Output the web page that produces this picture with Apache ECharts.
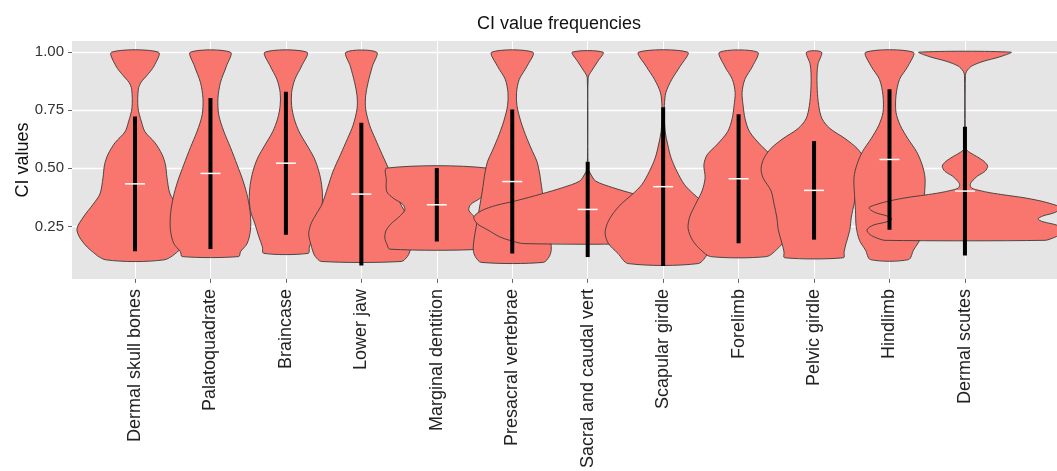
<!DOCTYPE html>
<html>
<head>
<meta charset="utf-8">
<script src="https://cdn.jsdelivr.net/npm/echarts@6/dist/echarts.min.js"></script>
<style>
    html, body { margin: 0; padding: 0; background: #fff; }
    #violinChart { width: 1057px; height: 471px; }
</style>
</head>
<body>
<div id="violinChart"></div>
<script>
    // skeletal regions along the x axis
    const categories = ['Dermal skull bones', 'Palatoquadrate', 'Braincase', 'Lower jaw', 'Marginal dentition',
        'Presacral vertebrae', 'Sacral and caudal vert', 'Scapular girdle', 'Forelimb', 'Pelvic girdle',
        'Hindlimb', 'Dermal scutes']
    const categoryTicks = [1, 2, 3, 4, 5, 6, 7, 8, 9, 10, 11, 12]
    const yTicks = [0.25, 0.5, 0.75, 1.0]

    // mean CI and standard deviation per region (white mark and black bar)
    const meanValues = [0.433, 0.478, 0.522, 0.389, 0.343, 0.443, 0.323, 0.421, 0.455, 0.405, 0.538, 0.402]
    const sdValues = [0.290, 0.325, 0.308, 0.307, 0.158, 0.310, 0.205, 0.342, 0.278, 0.212, 0.302, 0.277]

    // violin outlines: [CI value, half width in category units], from top to bottom
    const dermalSkull = [[1.0, 0.311], [0.94, 0.252], [0.90, 0.159], [0.87, 0.080], [0.84, 0.044], [0.76, 0.040],
        [0.70, 0.086], [0.657, 0.133], [0.61, 0.265], [0.56, 0.358], [0.515, 0.404], [0.46, 0.424], [0.39, 0.464],
        [0.346, 0.553], [0.29, 0.685], [0.24, 0.769], [0.20, 0.729], [0.15, 0.597], [0.106, 0.384]]
    const palatoquadrate = [[1.0, 0.265], [0.94, 0.212], [0.87, 0.133], [0.80, 0.099], [0.73, 0.110], [0.66, 0.176],
        [0.59, 0.265], [0.515, 0.354], [0.445, 0.433], [0.374, 0.494], [0.30, 0.530], [0.233, 0.530],
        [0.176, 0.486], [0.141, 0.398], [0.12, 0.375]]
    const braincase = [[1.0, 0.278], [0.94, 0.208], [0.883, 0.119], [0.826, 0.076], [0.77, 0.076], [0.713, 0.110],
        [0.657, 0.176], [0.60, 0.278], [0.544, 0.375], [0.487, 0.437], [0.43, 0.473], [0.374, 0.486],
        [0.318, 0.470], [0.261, 0.411], [0.205, 0.358], [0.162, 0.311], [0.134, 0.296]]
    const lowerJaw = [[1.0, 0.203], [0.939, 0.146], [0.869, 0.089], [0.812, 0.057], [0.756, 0.057], [0.685, 0.110],
        [0.629, 0.182], [0.558, 0.278], [0.487, 0.375], [0.417, 0.447], [0.346, 0.521], [0.304, 0.596],
        [0.261, 0.667], [0.219, 0.698], [0.18, 0.676], [0.14, 0.640], [0.12, 0.610], [0.099, 0.530]]
    const marginalDentition = [[0.501, 0.663], [0.45, 0.669], [0.40, 0.663], [0.37, 0.570], [0.345, 0.451],
        [0.32, 0.424], [0.29, 0.504], [0.26, 0.610], [0.23, 0.676], [0.20, 0.689], [0.175, 0.663], [0.152, 0.623]]
    const presacral = [[1.0, 0.272], [0.939, 0.195], [0.883, 0.093], [0.826, 0.057], [0.77, 0.062], [0.70, 0.115],
        [0.628, 0.195], [0.572, 0.269], [0.53, 0.327], [0.487, 0.358], [0.445, 0.378], [0.40, 0.398],
        [0.35, 0.424], [0.30, 0.451], [0.25, 0.477], [0.20, 0.504], [0.15, 0.517], [0.12, 0.490], [0.095, 0.411]]
    const sacralCaudal = [[1.0, 0.203], [0.96, 0.133], [0.92, 0.053], [0.89, 0.006], [0.50, 0.006], [0.475, 0.040],
        [0.445, 0.106], [0.417, 0.331], [0.39, 0.610], [0.36, 0.954], [0.34, 1.219], [0.318, 1.405],
        [0.29, 1.511], [0.26, 1.458], [0.235, 1.325], [0.205, 1.166], [0.19, 1.034], [0.176, 0.848]]
    const scapular = [[1.0, 0.325], [0.939, 0.225], [0.883, 0.115], [0.826, 0.036], [0.77, 0.016], [0.713, 0.016],
        [0.657, 0.027], [0.60, 0.062], [0.544, 0.106], [0.487, 0.182], [0.43, 0.282], [0.39, 0.402],
        [0.346, 0.557], [0.304, 0.667], [0.261, 0.742], [0.219, 0.769], [0.176, 0.725], [0.134, 0.600], [0.09, 0.464]]
    const forelimb = [[1.0, 0.252], [0.94, 0.186], [0.883, 0.083], [0.826, 0.046], [0.77, 0.060], [0.713, 0.086],
        [0.657, 0.146], [0.60, 0.292], [0.558, 0.417], [0.515, 0.460], [0.459, 0.444], [0.403, 0.484],
        [0.346, 0.570], [0.29, 0.649], [0.24, 0.669], [0.19, 0.610], [0.15, 0.504], [0.12, 0.371]]
    const pelvic = [[1.0, 0.099], [0.95, 0.053], [0.91, 0.040], [0.84, 0.042], [0.77, 0.062], [0.713, 0.106],
        [0.671, 0.212], [0.628, 0.411], [0.586, 0.570], [0.544, 0.663], [0.50, 0.702], [0.459, 0.676],
        [0.403, 0.570], [0.346, 0.530], [0.29, 0.494], [0.233, 0.473], [0.176, 0.424], [0.14, 0.398], [0.115, 0.391]]
    const hindlimb = [[1.0, 0.314], [0.939, 0.243], [0.883, 0.133], [0.812, 0.086], [0.741, 0.086], [0.685, 0.142],
        [0.628, 0.243], [0.572, 0.358], [0.515, 0.433], [0.459, 0.471], [0.388, 0.464], [0.318, 0.451],
        [0.247, 0.441], [0.19, 0.398], [0.148, 0.318], [0.107, 0.252]]
    const dermalScutes = [[1.0, 0.610], [0.98, 0.464], [0.96, 0.239], [0.94, 0.089], [0.918, 0.023], [0.90, 0.006],
        [0.60, 0.006], [0.58, 0.020], [0.565, 0.080], [0.551, 0.155], [0.53, 0.252], [0.509, 0.301],
        [0.487, 0.265], [0.466, 0.163], [0.445, 0.097], [0.43, 0.070], [0.415, 0.090], [0.405, 0.186],
        [0.395, 0.331], [0.385, 0.530], [0.374, 0.769], [0.36, 0.994], [0.345, 1.166], [0.33, 1.272],
        [0.31, 1.193], [0.295, 1.034], [0.282, 0.968], [0.27, 1.034], [0.255, 1.219], [0.235, 1.299],
        [0.215, 1.259], [0.20, 1.166], [0.19, 1.060]]
    const profiles = [dermalSkull, palatoquadrate, braincase, lowerJaw, marginalDentition, presacral,
        sacralCaudal, scapular, forelimb, pelvic, hindlimb, dermalScutes]

    const fontFamily = '"Liberation Sans", Arial, sans-serif'

    function renderViolin (params, api) {
        const center = api.value(0)
        const profile = profiles[params.dataIndex]
        const right = profile.map(p => api.coord([center + p[1], p[0]]))
        const left = profile.slice().reverse().map(p => api.coord([center - p[1], p[0]]))
        return {
            type: 'polygon',
            shape: { points: right.concat(left), smooth: 0.3 },
            style: { fill: '#F8766D', stroke: '#3a3a3a', lineWidth: 0.9 }
        }
    }

    function renderSummary (params, api) {
        const x = api.value(0)
        const mean = api.value(1)
        const sd = api.value(2)
        const top = api.coord([x, mean + sd])
        const bottom = api.coord([x, mean - sd])
        const mid = api.coord([x, mean])
        return {
            type: 'group',
            children: [
                {
                    type: 'line',
                    shape: { x1: top[0], y1: top[1], x2: bottom[0], y2: bottom[1] },
                    style: { stroke: '#000', lineWidth: 4 }
                },
                {
                    type: 'line',
                    shape: { x1: mid[0] - 10, y1: mid[1], x2: mid[0] + 10, y2: mid[1] },
                    style: { stroke: '#fff', lineWidth: 1.5 }
                }
            ]
        }
    }

    const chart = echarts.init(document.getElementById('violinChart'))
    const option = {
        animation: false,
        title: {
            text: 'CI value frequencies',
            left: 472,
            top: 10,
            textStyle: { fontSize: 18, fontWeight: 'normal', color: '#111', fontFamily: fontFamily }
        },
        grid: {
            left: 72,
            right: 0,
            top: 41,
            bottom: 188,
            show: true,
            backgroundColor: '#E5E5E5',
            borderWidth: 0
        },
        xAxis: {
            type: 'value',
            min: 0.165,
            max: 13.22,
            axisLine: { show: false },
            axisTick: { show: true, length: 4, customValues: categoryTicks, lineStyle: { color: '#666' } },
            axisLabel: {
                customValues: categoryTicks,
                rotate: 90,
                margin: 10,
                fontSize: 18,
                color: '#222',
                fontFamily: fontFamily,
                formatter: v => categories[Math.round(v) - 1]
            },
            splitLine: { show: true, lineStyle: { color: '#fff', width: 1 } }
        },
        yAxis: {
            type: 'value',
            min: 0.024,
            max: 1.048,
            name: 'CI values',
            nameLocation: 'middle',
            nameGap: 40,
            nameMoveOverlap: false,
            nameTextStyle: { fontSize: 18, color: '#111', fontFamily: fontFamily },
            axisLine: { show: false },
            axisTick: { show: true, length: 4, customValues: yTicks, lineStyle: { color: '#666' } },
            axisLabel: {
                customValues: yTicks,
                margin: 8,
                fontSize: 15,
                color: '#333',
                fontFamily: fontFamily,
                formatter: v => v.toFixed(2)
            },
            splitLine: { show: true, lineStyle: { color: '#fff', width: 1.3 } }
        },
        series: [
            {
                type: 'custom',
                clip: true,
                renderItem: renderViolin,
                data: categoryTicks.map((t, i) => [t, meanValues[i], sdValues[i]])
            },
            {
                type: 'custom',
                clip: true,
                renderItem: renderSummary,
                data: categoryTicks.map((t, i) => [t, meanValues[i], sdValues[i]])
            }
        ]
    }
    chart.setOption(option)
</script>
</body>
</html>
